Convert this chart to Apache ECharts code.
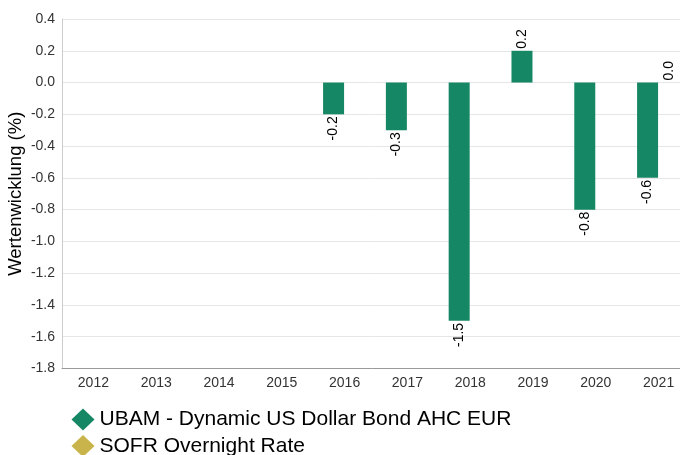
<!DOCTYPE html>
<html>
<head>
<meta charset="utf-8">
<script src="https://cdn.jsdelivr.net/npm/echarts@6/dist/echarts.min.js"></script>
<style>html,body{margin:0;padding:0;background:#fff}#c{width:680px;height:455px}</style>
</head>
<body>
<div id="c"></div>
<script>
const categories = ['2012','2013','2014','2015','2016','2017','2018','2019','2020','2021'];
const ubamValues = [null,null,null,null,-0.2,-0.3,-1.5,0.2,-0.8,-0.6];
const sofrValues = [null,null,null,null,null,null,null,null,null,0.0];
const seriesNames = ['UBAM - Dynamic US Dollar Bond AHC EUR','SOFR Overnight Rate'];
const yAxisName = 'Wertenwicklung (%)';

function labelled(vals){
  return vals.map(v => v === null ? null : {
    value: v,
    label: v < 0
      ? {position:'bottom', rotate:90, align:'right', verticalAlign:'middle', distance:2}
      : {position:'top', rotate:90, align:'left', verticalAlign:'middle', distance:2}
  });
}

const legendText = {fontSize:21, color:'#000', fontFamily:'Liberation Sans, Arial, sans-serif'};
const chart = echarts.init(document.getElementById('c'), null, {renderer:'canvas'});
chart.setOption({
  animation:false,
  textStyle:{fontFamily:'Liberation Sans, Arial, sans-serif'},
  grid:{left:62, right:-10, top:19, bottom:86.5, containLabel:false, outerBoundsMode:'none'},
  legend:[
    {orient:'horizontal', left:71.5, top:408.5, padding:0, itemWidth:23, itemHeight:22, itemGap:5,
     icon:'diamond', textStyle:legendText, data:[seriesNames[0]]},
    {orient:'horizontal', left:71.5, top:435, padding:0, itemWidth:23, itemHeight:22, itemGap:5,
     icon:'diamond', textStyle:legendText, data:[seriesNames[1]]}
  ],
  xAxis:{
    type:'category', data:categories,
    axisLine:{onZero:false, lineStyle:{color:'#999'}},
    axisTick:{show:false},
    axisLabel:{fontSize:14, color:'#333', margin:8}
  },
  yAxis:{
    type:'value', min:-1.8, max:0.4, interval:0.2,
    name:yAxisName, nameLocation:'middle', nameGap:37, nameRotate:90, nameMoveOverlap:false,
    nameTextStyle:{fontSize:18.5, color:'#000'},
    axisLine:{show:true, lineStyle:{color:'#ccc'}},
    axisTick:{show:false},
    splitLine:{lineStyle:{color:'#e6e6e6'}},
    axisLabel:{fontSize:14, color:'#333', margin:7, formatter:v=>v.toFixed(1)}
  },
  series:[
    {name:seriesNames[0], type:'bar', barWidth:21, barGap:'5%', data:labelled(ubamValues),
     itemStyle:{color:'#168764'},
     label:{show:true, fontSize:14, color:'#000', formatter:p=>p.value.toFixed(1)}},
    {name:seriesNames[1], type:'bar', barWidth:21, data:labelled(sofrValues),
     itemStyle:{color:'#c8b44a'},
     label:{show:true, fontSize:14, color:'#000', formatter:p=>p.value.toFixed(1)}}
  ]
});
</script>
</body>
</html>
